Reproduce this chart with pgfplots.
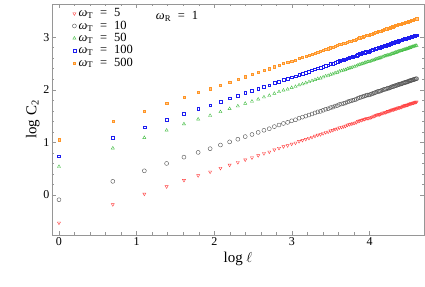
\documentclass[border=0pt]{standalone}
\usepackage{pgfplots}
\pgfplotsset{compat=1.18}
\usepackage{pgfplotstable}
\usepackage{fontspec}
\setmainfont{Liberation Serif}
\definecolor{cR}{RGB}{255,60,60}
\definecolor{cK}{RGB}{80,80,80}
\definecolor{cG}{RGB}{70,190,70}
\definecolor{cB}{RGB}{30,30,240}
\definecolor{cO}{RGB}{255,150,40}
\definecolor{frame}{RGB}{150,150,150}
\pgfplotstableread{
x r k g b o
0.000 -0.53 -0.09 0.54 0.74 1.05
0.693 -0.18 0.26 0.89 1.09 1.40
1.099 0.02 0.46 1.09 1.29 1.60
1.386 0.16 0.60 1.23 1.43 1.74
1.609 0.28 0.72 1.35 1.55 1.86
1.792 0.37 0.81 1.44 1.64 1.95
1.946 0.44 0.88 1.51 1.71 2.02
2.079 0.51 0.95 1.58 1.78 2.09
2.197 0.57 1.01 1.64 1.84 2.15
2.303 0.62 1.06 1.69 1.89 2.20
2.398 0.67 1.11 1.74 1.94 2.25
2.485 0.71 1.15 1.78 1.98 2.29
2.565 0.75 1.19 1.82 2.02 2.33
2.639 0.79 1.23 1.86 2.06 2.37
2.708 0.82 1.26 1.89 2.09 2.40
2.773 0.86 1.30 1.93 2.13 2.44
2.833 0.89 1.33 1.96 2.16 2.47
2.890 0.92 1.36 1.99 2.19 2.50
2.944 0.94 1.38 2.01 2.21 2.52
2.996 0.97 1.41 2.04 2.24 2.55
3.045 0.99 1.43 2.06 2.26 2.57
3.091 1.02 1.46 2.09 2.29 2.60
3.135 1.04 1.48 2.11 2.31 2.62
3.178 1.06 1.50 2.13 2.33 2.64
3.219 1.08 1.52 2.15 2.35 2.66
3.258 1.10 1.54 2.17 2.37 2.68
3.296 1.12 1.56 2.19 2.39 2.70
3.332 1.14 1.58 2.21 2.41 2.72
3.367 1.15 1.59 2.22 2.42 2.73
3.401 1.17 1.61 2.24 2.44 2.75
3.434 1.19 1.63 2.26 2.46 2.77
3.466 1.20 1.64 2.27 2.47 2.78
3.497 1.22 1.66 2.29 2.49 2.80
3.526 1.23 1.67 2.30 2.50 2.81
3.555 1.25 1.69 2.32 2.52 2.83
3.584 1.26 1.70 2.33 2.53 2.84
3.611 1.28 1.72 2.35 2.55 2.86
3.638 1.29 1.73 2.36 2.56 2.87
3.664 1.30 1.74 2.37 2.57 2.88
3.689 1.31 1.75 2.38 2.58 2.89
3.714 1.33 1.77 2.40 2.60 2.91
3.738 1.34 1.78 2.41 2.61 2.92
3.761 1.35 1.79 2.42 2.62 2.93
3.784 1.36 1.80 2.43 2.63 2.94
3.807 1.37 1.81 2.44 2.64 2.95
3.829 1.38 1.82 2.45 2.65 2.96
3.850 1.40 1.84 2.47 2.67 2.98
3.871 1.41 1.85 2.48 2.68 2.99
3.892 1.42 1.86 2.49 2.69 3.00
3.912 1.43 1.87 2.50 2.70 3.01
3.932 1.44 1.88 2.51 2.71 3.02
3.951 1.45 1.89 2.52 2.72 3.03
3.970 1.46 1.90 2.53 2.73 3.04
3.989 1.46 1.90 2.53 2.73 3.04
4.007 1.47 1.91 2.54 2.74 3.05
4.025 1.48 1.92 2.55 2.75 3.06
4.043 1.49 1.93 2.56 2.76 3.07
4.060 1.50 1.94 2.57 2.77 3.08
4.078 1.51 1.95 2.58 2.78 3.09
4.094 1.52 1.96 2.59 2.79 3.10
4.111 1.53 1.97 2.60 2.80 3.11
4.127 1.53 1.97 2.60 2.80 3.11
4.143 1.54 1.98 2.61 2.81 3.12
4.159 1.55 1.99 2.62 2.82 3.13
4.174 1.56 2.00 2.63 2.83 3.14
4.190 1.57 2.01 2.64 2.84 3.15
4.205 1.57 2.01 2.64 2.84 3.15
4.220 1.58 2.02 2.65 2.85 3.16
4.234 1.59 2.03 2.66 2.86 3.17
4.248 1.59 2.03 2.66 2.86 3.17
4.263 1.60 2.04 2.67 2.87 3.18
4.277 1.61 2.05 2.68 2.88 3.19
4.290 1.62 2.06 2.69 2.89 3.20
4.304 1.62 2.06 2.69 2.89 3.20
4.317 1.63 2.07 2.70 2.90 3.21
4.331 1.64 2.08 2.71 2.91 3.22
4.344 1.64 2.08 2.71 2.91 3.22
4.357 1.65 2.09 2.72 2.92 3.23
4.369 1.66 2.10 2.73 2.93 3.24
4.382 1.66 2.10 2.73 2.93 3.24
4.394 1.67 2.11 2.74 2.94 3.25
4.407 1.67 2.11 2.74 2.94 3.25
4.419 1.68 2.12 2.75 2.95 3.26
4.431 1.69 2.13 2.76 2.96 3.27
4.443 1.69 2.13 2.76 2.96 3.27
4.454 1.70 2.14 2.77 2.97 3.28
4.466 1.70 2.14 2.77 2.97 3.28
4.477 1.71 2.15 2.78 2.98 3.29
4.489 1.71 2.15 2.78 2.98 3.29
4.500 1.72 2.16 2.79 2.99 3.30
4.511 1.73 2.17 2.80 3.00 3.31
4.522 1.73 2.17 2.80 3.00 3.31
4.533 1.74 2.18 2.81 3.01 3.32
4.543 1.74 2.18 2.81 3.01 3.32
4.554 1.75 2.19 2.82 3.02 3.33
4.564 1.75 2.19 2.82 3.02 3.33
4.575 1.76 2.20 2.83 3.03 3.34
4.585 1.76 2.20 2.83 3.03 3.34
4.595 1.77 2.21 2.84 3.04 3.35
4.605 1.77 2.21 2.84 3.04 3.35
}\data
\newcommand{\wt}[1]{\textit{ω}\textsubscript{T}\hspace{0.55em}=\hspace{0.55em}#1}
\begin{document}
\begin{tikzpicture}
\begin{axis}[
  scale only axis,
  width=372pt, height=231pt,
  xmin=-0.09, xmax=4.70, ymin=-0.76, ymax=3.63,
  xtick={0,1,2,3,4}, ytick={0,1,2,3},
  minor x tick num=4, minor y tick num=4,
  tick align=inside,
  major tick length=4pt, minor tick length=2.5pt,
  axis line style={frame, line width=0.8pt},
  every tick/.style={frame, line width=0.5pt},
  /pgf/number format/assume math mode=true,
  ticklabel style={font=\fontsize{12}{12}\selectfont},
  xticklabel style={yshift=1pt},
  yticklabel style={xshift=1pt},
  xlabel={log $\ell$}, ylabel={log C\textsubscript{2}},
  label style={font=\fontsize{15}{16}\selectfont},
  xlabel style={yshift=0pt},
  ylabel style={yshift=-3pt},
  legend cell align=left,
  legend style={draw=none, fill=none, at={(axis cs:0.17,3.55)}, anchor=north west,
    font=\fontsize{12.5}{12}\selectfont, row sep=1.8pt, inner sep=0pt,
    nodes={inner xsep=2.2pt, inner ysep=0pt, text height=8.5pt, text depth=2pt}},
  legend image code/.code={\draw plot coordinates {(0.05cm,0cm)};},
]
\addplot[only marks, mark=triangle, mark options={rotate=180, draw=cR, line width=0.4pt}, mark size=1.8pt] table[x=x,y=r] {\data};
\addlegendentry{\wt{5}}
\addplot[only marks, mark=o, mark options={draw=cK, line width=0.4pt}, mark size=2pt] table[x=x,y=k] {\data};
\addlegendentry{\wt{10}}
\addplot[only marks, mark=triangle, mark options={draw=cG, line width=0.4pt}, mark size=1.8pt] table[x=x,y=g] {\data};
\addlegendentry{\wt{50}}
\addplot[only marks, mark=square, mark options={draw=cB, line width=0.35pt}, mark size=1.35pt] table[x=x,y=b] {\data};
\addlegendentry{\wt{100}}
\addplot[only marks, mark=square*, mark options={draw=cO, fill=cO!55, line width=0.35pt}, mark size=1.1pt] table[x=x,y=o] {\data};
\addlegendentry{\wt{500}}
\node[font=\fontsize{12.5}{12}\selectfont] at (axis cs:1.52,3.40) {\textit{ω}\textsubscript{R}\hspace{0.55em}=\hspace{0.55em}1};
\coordinate (ll) at (rel axis cs:0,0);
\coordinate (ur) at (rel axis cs:1,1);
\end{axis}
\pgfresetboundingbox
\path[use as bounding box] ([shift={(-52pt,-52pt)}]ll) rectangle ([shift={(1pt,4pt)}]ur);
\end{tikzpicture}
\end{document}
